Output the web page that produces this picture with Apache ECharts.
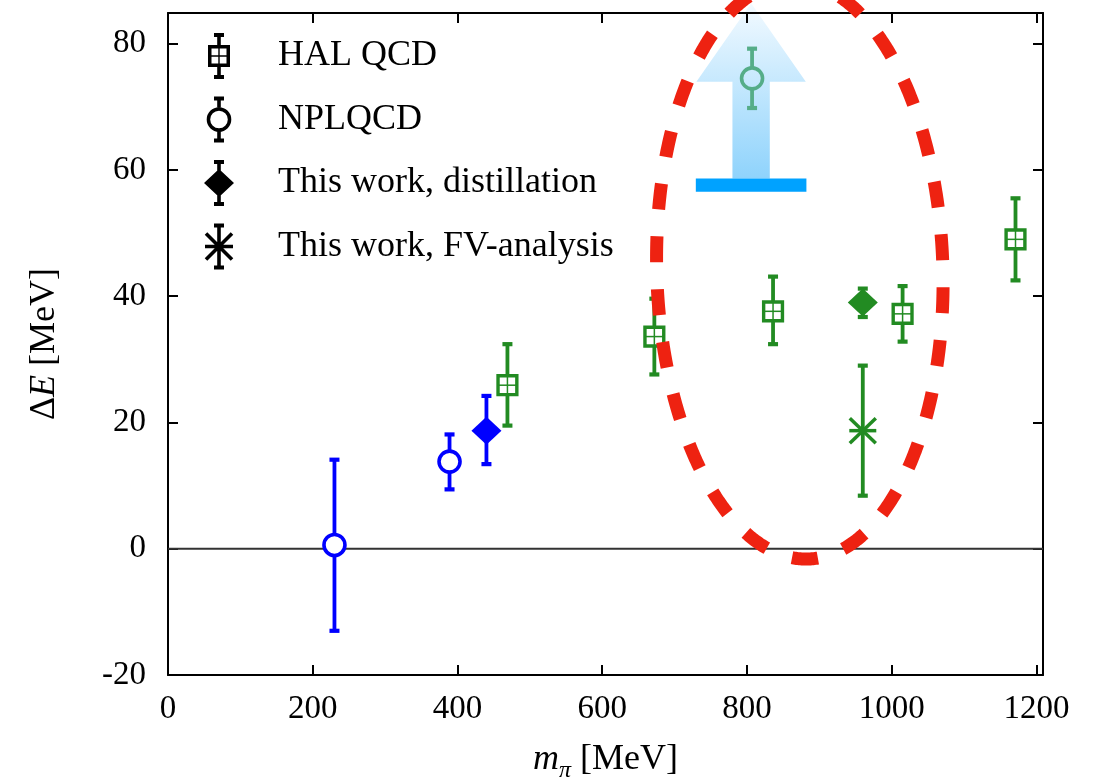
<!DOCTYPE html>
<html>
<head>
<meta charset="utf-8">
<script src="https://cdn.jsdelivr.net/npm/echarts@6/dist/echarts.min.js"></script>
<style>
html,body{margin:0;padding:0;background:#ffffff;}
#chart{width:1102px;height:779px;}
</style>
</head>
<body>
<div id="chart"></div>
<script>
// ---------------- data ----------------
// HAL QCD
const halMpi = [469, 672, 836, 1015, 1171];
const halDE  = [25.9, 33.6, 37.6, 37.2, 49.0];
const halLo  = [19.5, 27.6, 32.4, 32.8, 42.5];
const halHi  = [32.4, 39.6, 43.1, 41.6, 55.5];
// NPLQCD
const nplMpi = [230, 389, 807];
const nplDE  = [0.6, 13.8, 74.5];
const nplLo  = [-13.0, 9.4, 69.8];
const nplHi  = [14.1, 18.1, 79.2];
// This work, distillation
const distMpi = [440, 960];
const distDE  = [18.7, 39.0];
const distLo  = [13.4, 36.7];
const distHi  = [24.2, 41.2];
// This work, FV-analysis
const fvMpi = [960];
const fvDE  = [18.7];
const fvLo  = [8.4];
const fvHi  = [29.0];

const seriesNames = ['HAL QCD', 'NPLQCD', 'This work, distillation', 'This work, FV-analysis'];
const xTickLabels = [0, 200, 400, 600, 800, 1000, 1200];
const yTickLabels = [-20, 0, 20, 40, 60, 80];

// ---------------- styles ----------------
const FONT = 'Liberation Serif';
const BLUE = '#0000ff', GREEN = '#228b22', TEAL = '#55ad88';
const halColors  = [GREEN, GREEN, GREEN, GREEN, GREEN];
const nplColors  = [BLUE, BLUE, TEAL];
const nplHollowFill = ['#ffffff', '#ffffff', 'rgba(0,0,0,0)'];
const distColors = [BLUE, GREEN];
const fvColors   = [GREEN];

// annotation geometry in data units
const arrowX = 805.7, arrowTipY = 86.4, arrowHeadBaseY = 73.95, arrowShaftBottomY = 58.65, arrowBarBottomY = 56.53;
const arrowHeadHalfW = 75.6, arrowShaftHalfW = 25.8, arrowBarHalfW = 76.4;
const ellipseCenter = [873.0, 44.1];
const ellipseSemi = [197.7, 45.75];

// ---------------- helpers ----------------
function build(xs, ys, los, his, cols) {
  return xs.map((x, i) => ({
    value: [x, ys[i], los[i], his[i]],
    itemStyle: { color: cols[i] }
  }));
}

const BAR_W = 3.8, CAP_W = 10, CAP_H = 4.2;

function makeRender(shape) {
  return function (params, api) {
    const x = api.value(0), y = api.value(1), lo = api.value(2), hi = api.value(3);
    const fillStr = shape === 'circle' ? nplHollowFill[params.dataIndex] : '#ffffff';
    const c = api.coord([x, y]);
    const pLo = api.coord([x, lo]);
    const pHi = api.coord([x, hi]);
    const color = api.visual('color');
    const cx = c[0], cy = c[1];
    const R = 10.5, SQ = 9.4;
    const gap = shape === 'circle' ? R : (shape === 'square' ? SQ : 0);
    const ch = [];
    const bs = { stroke: color, lineWidth: BAR_W, fill: null };
    ch.push({ type: 'line', shape: { x1: cx, y1: pHi[1], x2: cx, y2: cy - gap }, style: bs });
    ch.push({ type: 'line', shape: { x1: cx, y1: cy + gap, x2: cx, y2: pLo[1] }, style: bs });
    ch.push({ type: 'rect', shape: { x: cx - CAP_W / 2, y: pHi[1] - CAP_H / 2, width: CAP_W, height: CAP_H }, style: { fill: color } });
    ch.push({ type: 'rect', shape: { x: cx - CAP_W / 2, y: pLo[1] - CAP_H / 2, width: CAP_W, height: CAP_H }, style: { fill: color } });
    if (shape === 'circle') {
      ch.push({ type: 'circle', shape: { cx: cx, cy: cy, r: R }, style: { stroke: color, lineWidth: 3.6, fill: fillStr } });
    } else if (shape === 'square') {
      ch.push({ type: 'rect', shape: { x: cx - SQ, y: cy - SQ, width: 2 * SQ, height: 2 * SQ }, style: { stroke: color, lineWidth: 3.4, fill: '#ffffff' } });
      ch.push({ type: 'line', shape: { x1: cx, y1: cy - SQ, x2: cx, y2: cy + SQ }, style: { stroke: color, lineWidth: 1.5 } });
      ch.push({ type: 'line', shape: { x1: cx - SQ, y1: cy, x2: cx + SQ, y2: cy }, style: { stroke: color, lineWidth: 1.5 } });
    } else if (shape === 'diamond') {
      ch.push({ type: 'polygon', shape: { points: [[cx - 15, cy], [cx, cy - 14], [cx + 15, cy], [cx, cy + 14]] }, style: { fill: color } });
    } else if (shape === 'star') {
      const ls = { stroke: color, lineWidth: 3.5 };
      ch.push({ type: 'line', shape: { x1: cx - 13.5, y1: cy, x2: cx + 13.5, y2: cy }, style: ls });
      ch.push({ type: 'line', shape: { x1: cx - 13, y1: cy - 12.5, x2: cx + 13, y2: cy + 12.5 }, style: ls });
      ch.push({ type: 'line', shape: { x1: cx - 13, y1: cy + 12.5, x2: cx + 13, y2: cy - 12.5 }, style: ls });
    }
    return { type: 'group', children: ch };
  };
}

// --- legend icon paths (filled, nonzero) ---
function rectP(x, y, w, h) { return 'M' + x + ' ' + y + 'H' + (x + w) + 'V' + (y + h) + 'H' + x + 'Z'; }
function holeP(x, y, w, h) { return 'M' + x + ' ' + y + 'V' + (y + h) + 'H' + (x + w) + 'V' + y + 'Z'; }
function segP(x1, y1, x2, y2, w) {
  const dx = x2 - x1, dy = y2 - y1, L = Math.hypot(dx, dy);
  const nx = -dy / L * w / 2, ny = dx / L * w / 2;
  let pts = [[x1 + nx, y1 + ny], [x2 + nx, y2 + ny], [x2 - nx, y2 - ny], [x1 - nx, y1 - ny]];
  let a = 0;
  for (let i = 0; i < 4; i++) { const p = pts[i], q = pts[(i + 1) % 4]; a += p[0] * q[1] - q[0] * p[1]; }
  if (a < 0) pts = pts.reverse();
  return 'M' + pts.map(p => p[0].toFixed(2) + ' ' + p[1].toFixed(2)).join('L') + 'Z';
}
const BOX = 'M0 0L0.01 0Z M69 46L68.99 46Z ';
const caps = rectP(10, 0, 10, 4) + rectP(10, 42, 10, 4);
const ICON_SQ = 'path://' + BOX + caps + rectP(13.2, 4, 3.6, 8.5) + rectP(13.2, 33.5, 3.6, 8.5) +
  rectP(4, 12, 22, 22) + holeP(7.5, 15.5, 15, 15) + rectP(14.3, 15.5, 1.4, 15) + rectP(7.5, 22.3, 15, 1.4);
const ICON_CI = 'path://' + BOX + caps + rectP(13.2, 4, 3.6, 6.8) + rectP(13.2, 35.2, 3.6, 6.8) +
  'M2.7 23A12.3 12.3 0 1 1 27.3 23A12.3 12.3 0 1 1 2.7 23Z' +
  'M6.2 23A8.8 8.8 0 1 0 23.8 23A8.8 8.8 0 1 0 6.2 23Z';
const ICON_DI = 'path://' + BOX + caps + rectP(13.2, 4, 3.6, 38) + 'M0 23L15 9L30 23L15 37Z';
const ICON_ST = 'path://' + BOX + caps + rectP(13.2, 4, 3.6, 38) + rectP(1, 21.2, 28, 3.6) +
  segP(2, 10, 28, 36, 3.6) + segP(28, 10, 2, 36, 3.6);

// ---------------- chart ----------------
const chart = echarts.init(document.getElementById('chart'), null, { renderer: 'canvas' });
const X_MAX = 1209, Y_MAX = 84.85;

const axisLineStyle = { color: '#000', width: 2 };
const labelFmtX = v => (xTickLabels.indexOf(v) >= 0 ? String(v) : '');
const labelFmtY = v => (yTickLabels.indexOf(v) >= 0 ? String(v) : '');

const option = {
  animation: false,
  backgroundColor: '#ffffff',
  grid: { left: 168, right: 59, top: 13, bottom: 104, containLabel: false, outerBoundsMode: 'none' },
  legend: {
    orient: 'vertical', left: 204, top: 33, padding: 0,
    itemWidth: 69, itemHeight: 46, itemGap: 17.5,
    selectedMode: false,
    itemStyle: { color: '#000', borderWidth: 0, borderColor: 'rgba(0,0,0,0)' },
    textStyle: { fontFamily: FONT, fontSize: 36, color: '#000' },
    data: [
      { name: seriesNames[0], icon: ICON_SQ },
      { name: seriesNames[1], icon: ICON_CI },
      { name: seriesNames[2], icon: ICON_DI },
      { name: seriesNames[3], icon: ICON_ST }
    ]
  },
  xAxis: [{
    type: 'value', position: 'bottom', min: 0, max: X_MAX, interval: 200,
    axisLine: { show: true, onZero: false, lineStyle: axisLineStyle },
    axisTick: { show: true, inside: true, length: 10, lineStyle: axisLineStyle },
    axisLabel: { margin: 18, fontFamily: FONT, fontSize: 33, lineHeight: 33, color: '#000', formatter: labelFmtX },
    splitLine: { show: false },
    name: '{i|m}{s|π} [MeV]',
    nameLocation: 'middle', nameGap: 62,
    nameTextStyle: {
      fontFamily: FONT, fontSize: 36, color: '#000', lineHeight: 46,
      rich: {
        i: { fontFamily: FONT, fontSize: 36, fontStyle: 'italic', color: '#000', lineHeight: 46 },
        s: { fontFamily: FONT, fontSize: 24, fontStyle: 'italic', color: '#000', lineHeight: 21, verticalAlign: 'bottom' }
      }
    }
  }, {
    type: 'value', position: 'top', min: 0, max: X_MAX, interval: 200,
    axisLine: { show: true, onZero: false, lineStyle: axisLineStyle },
    axisTick: { show: true, inside: true, length: 10, lineStyle: axisLineStyle },
    axisLabel: { show: false }, splitLine: { show: false }
  }],
  yAxis: [{
    type: 'value', position: 'left', min: -20, max: Y_MAX, interval: 20,
    axisLine: { show: true, onZero: false, lineStyle: axisLineStyle },
    axisTick: { show: true, inside: true, length: 10, lineStyle: axisLineStyle },
    axisLabel: { margin: 22, fontFamily: FONT, fontSize: 33, color: '#000', formatter: labelFmtY },
    splitLine: { show: false },
    name: 'Δ{i|E} [MeV]',
    nameLocation: 'middle', nameGap: 100, nameRotate: 90,
    nameTextStyle: {
      fontFamily: FONT, fontSize: 36, color: '#000', lineHeight: 46,
      rich: { i: { fontFamily: FONT, fontSize: 36, fontStyle: 'italic', color: '#000', lineHeight: 46 } }
    }
  }, {
    type: 'value', position: 'right', min: -20, max: Y_MAX, interval: 20,
    axisLine: { show: true, onZero: false, lineStyle: axisLineStyle },
    axisTick: { show: true, inside: true, length: 10, lineStyle: axisLineStyle },
    axisLabel: { show: false }, splitLine: { show: false }
  }],
  series: [
    {
      name: 'zero', type: 'line', xAxisIndex: 0, yAxisIndex: 0, z: 1, silent: true,
      symbol: 'none', data: [[0, 0], [X_MAX, 0]],
      lineStyle: { color: '#333333', width: 2 }
    },
    {
      name: seriesNames[0], type: 'custom', z: 3, renderItem: makeRender('square'),
      encode: { x: 0, y: [1, 2, 3] }, data: build(halMpi, halDE, halLo, halHi, halColors)
    },
    {
      name: seriesNames[1], type: 'custom', z: 3, renderItem: makeRender('circle'),
      encode: { x: 0, y: [1, 2, 3] }, data: build(nplMpi, nplDE, nplLo, nplHi, nplColors)
    },
    {
      name: seriesNames[2], type: 'custom', z: 3, renderItem: makeRender('diamond'),
      encode: { x: 0, y: [1, 2, 3] }, data: build(distMpi, distDE, distLo, distHi, distColors)
    },
    {
      name: seriesNames[3], type: 'custom', z: 3, renderItem: makeRender('star'),
      encode: { x: 0, y: [1, 2, 3] }, data: build(fvMpi, fvDE, fvLo, fvHi, fvColors)
    }
  ]
};
chart.setOption(option);

// ---------------- annotations (positioned through the axes) ----------------
function px(x, y) { return chart.convertToPixel({ gridIndex: 0 }, [x, y]); }
const tip = px(arrowX, arrowTipY);
const headL = px(arrowX - arrowHeadHalfW, arrowHeadBaseY);
const headR = px(arrowX + arrowHeadHalfW, arrowHeadBaseY);
const shL = px(arrowX - arrowShaftHalfW, arrowHeadBaseY);
const shR = px(arrowX + arrowShaftHalfW, arrowHeadBaseY);
const shLb = px(arrowX - arrowShaftHalfW, arrowShaftBottomY);
const shRb = px(arrowX + arrowShaftHalfW, arrowShaftBottomY);
const barTL = px(arrowX - arrowBarHalfW, arrowShaftBottomY);
const barBR = px(arrowX + arrowBarHalfW, arrowBarBottomY);
const eC = px(ellipseCenter[0], ellipseCenter[1]);
const eR = px(ellipseCenter[0] + ellipseSemi[0], ellipseCenter[1] + ellipseSemi[1]);
const ea = Math.abs(eR[0] - eC[0]), eb = Math.abs(eR[1] - eC[1]);
const TILT = 0.028;   // visual counter-clockwise tilt (rad)

// ellipse outline, starting at its top (outside the picture), going clockwise
const N = 720;
const ellPts = [];
let sLeft = 0, acc = 0;
for (let i = 0; i <= N; i++) {
  const t = -Math.PI / 2 + 2 * Math.PI * i / N;
  const ux = ea * Math.cos(t), uy = eb * Math.sin(t);
  const p = [eC[0] + ux * Math.cos(TILT) + uy * Math.sin(TILT), eC[1] - ux * Math.sin(TILT) + uy * Math.cos(TILT)];
  if (i > 0) { const q = ellPts[i - 1]; acc += Math.hypot(p[0] - q[0], p[1] - q[1]); }
  if (i === N * 3 / 4) sLeft = acc;
  ellPts.push(p);
}
const DASH = 26, GAP = 27, PERIOD = DASH + GAP;
const wantCenter = sLeft + 25;
const dashOffset = (((DASH / 2 - wantCenter) % PERIOD) + PERIOD) % PERIOD;

chart.setOption({
  graphic: [
    {
      type: 'polygon', z: -1, silent: true,
      shape: { points: [tip, headR, shR, shRb, shLb, shL, headL] },
      style: {
        fill: new echarts.graphic.LinearGradient(0, 0, 0, 1, [
          { offset: 0, color: '#f3faff' },
          { offset: 1, color: '#8fd3fc' }
        ])
      }
    },
    {
      type: 'rect', z: -1, silent: true,
      shape: { x: barTL[0], y: barTL[1], width: barBR[0] - barTL[0], height: barBR[1] - barTL[1] },
      style: { fill: '#00a2ff' }
    },
    {
      type: 'polyline', z: 100, silent: true,
      shape: { points: ellPts },
      style: { fill: null, stroke: '#ee2211', lineWidth: 13, lineDash: [DASH, GAP], lineDashOffset: dashOffset, lineCap: 'butt', lineJoin: 'round' }
    }
  ]
});
</script>
</body>
</html>
